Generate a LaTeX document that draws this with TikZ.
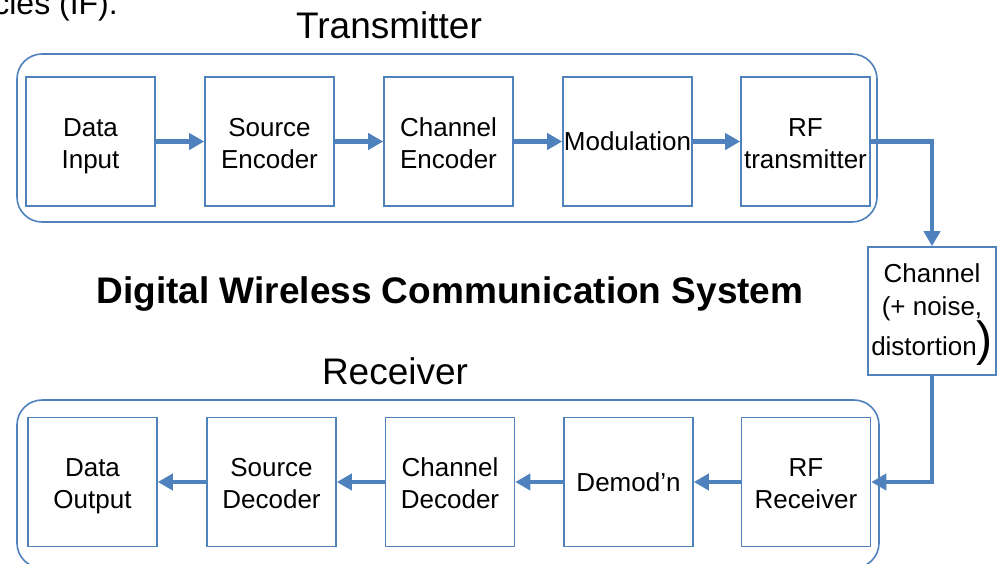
\documentclass[tikz,border=0pt]{standalone}
\usepackage{fontspec}
\setmainfont{Liberation Sans}
\usetikzlibrary{arrows.meta}
\definecolor{ob}{HTML}{4F81BD}
\begin{document}
\begin{tikzpicture}[x=1pt,y=-1pt,
 blk/.style={draw=ob,line width=1.6pt,minimum width=129pt,minimum height=129pt,inner sep=0pt,align=center,font=\fontsize{26}{32}\selectfont},
 two/.style={text height=53pt,text depth=0pt},
 grp/.style={draw=ob,line width=1.6pt,rounded corners=25pt,inner sep=0pt},
 flow/.style={draw=ob,line width=4.5pt,-{Triangle[length=15pt,width=16pt]}},
 hdr/.style={font=\fontsize{37}{40}\selectfont,inner sep=0pt,anchor=base}]
\useasboundingbox (0,0) rectangle (997,563);
% clipped text at top
\node[hdr,anchor=base east,font=\fontsize{32}{36}\selectfont] (cut) at (118,14) {cies (IF).};
% groups
\node[grp,minimum width=860pt,minimum height=168pt] (txg) at (447,138) {};
\node[grp,minimum width=862pt,minimum height=168pt] (rxg) at (448,484) {};
\node[hdr] (txl) at (389,38) {Transmitter};
\node[hdr] (rxl) at (395,384) {Receiver};
\node[hdr,font=\fontsize{37}{40}\selectfont\bfseries] (ttl) at (450,303) {Digital Wireless Communication System};
% transmitter chain
\node[blk,two] (t1) at (90.5,141.5) {Data\\Input};
\node[blk,two] (t2) at (269.5,141.5) {Source\\Encoder};
\node[blk,two] (t3) at (448.5,141.5) {Channel\\Encoder};
\node[blk] (t4) at (627.5,141.5) {Modulation};
\node[blk,two] (t5) at (805.5,141.5) {RF\\transmitter};
% channel
\node[blk,minimum width=128pt,minimum height=128pt,font=\fontsize{26}{33}\selectfont] (ch) at (932,311) {Channel\\(+ noise,\\[7pt]distortion\smash{\fontsize{48}{48}\selectfont)}\rule[-2pt]{0pt}{2pt}};
% receiver chain
\node[blk,two] (r1) at (92.5,482) {Data\\Output};
\node[blk,two] (r2) at (271.5,482) {Source\\Decoder};
\node[blk,two] (r3) at (450,482) {Channel\\Decoder};
\node[blk] (r4) at (628.5,482) {Demod’n};
\node[blk,two] (r5) at (806,482) {RF\\Receiver};
% connectors
\draw[flow] (t1) -- (t2);
\draw[flow] (t2) -- (t3);
\draw[flow] (t3) -- (t4);
\draw[flow] (t4) -- (t5);
\draw[flow] (t5.east) -| (ch.north);
\draw[flow] (ch.south) |- (r5.east);
\draw[flow] (r5) -- (r4);
\draw[flow] (r4) -- (r3);
\draw[flow] (r3) -- (r2);
\draw[flow] (r2) -- (r1);
\end{tikzpicture}
\end{document}
